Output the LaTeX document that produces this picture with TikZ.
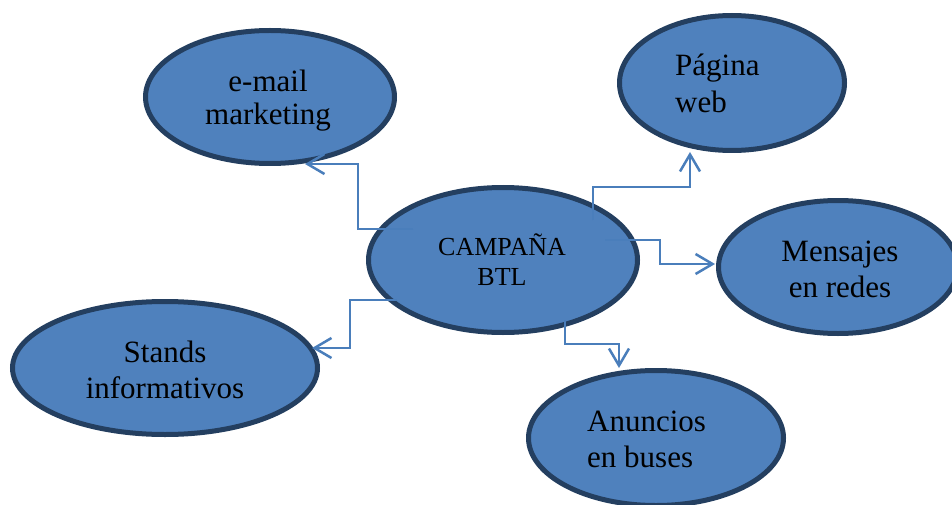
\documentclass[tikz,border=0pt]{standalone}
\usepackage{fontspec}
\setmainfont{Liberation Serif}
\usetikzlibrary{shapes.geometric,arrows.meta}
\definecolor{fillblue}{HTML}{4F81BD}
\definecolor{edgeblue}{HTML}{243F60}
\definecolor{connblue}{HTML}{4A7EBB}
\begin{document}
\begin{tikzpicture}[x=1pt,y=-1pt,
  bubble/.style={ellipse, draw=edgeblue, fill=fillblue, line width=5pt, inner sep=0pt},
  lbl/.style={font=\fontsize{31}{36}\selectfont, align=center, text=black, anchor=base, inner sep=0pt},
  conn/.style={draw=connblue, line width=2.5pt, -{Straight Barb[length=17pt,width=20pt]}}]
\useasboundingbox (0,0) rectangle (952,505);
\clip (0,0) rectangle (952,505);
% bubbles
\node[bubble, minimum width=269pt, minimum height=145pt] (c) at (503,260) {};
\node[bubble, minimum width=249pt, minimum height=133pt] (em) at (270,97) {};
\node[bubble, minimum width=225pt, minimum height=135pt] (pw) at (732,83) {};
\node[bubble, minimum width=239pt, minimum height=133pt] (mr) at (838,267) {};
\node[bubble, minimum width=305pt, minimum height=133pt] (st) at (165,368) {};
\node[bubble, minimum width=255pt, minimum height=135pt] (an) at (656,438) {};
% texts (anchor base = baseline of the last line)
\node[lbl, font=\fontsize{26}{30}\selectfont] (ct) at (502,285) {CAMPAÑA\\BTL};
\node[lbl, font=\fontsize{31}{33}\selectfont] (emt) at (268,125) {e-mail\\marketing};
\node[lbl, align=left, anchor=base west, font=\fontsize{31}{37}\selectfont] (pwt) at (675,113) {Página\\web};
\node[lbl] (mrt) at (840,297) {Mensajes\\en redes};
\node[lbl] (stt) at (165,398) {Stands\\informativos};
\node[lbl, align=left, anchor=base west] (ant) at (587,467) {Anuncios\\en buses};
% connectors
\draw[conn] ([shift={(-90,-31)}]c.center) -| ([shift={(88,67)}]em.center) -- ([shift={(35,67)}]em.center);
\draw[conn] ([shift={(90,-40)}]c.center) |- ([shift={(-42,104)}]pw.center) -- ([shift={(-42,69)}]pw.center);
\draw[conn] ([shift={(102,-20)}]c.center) -| ([shift={(-178,-3)}]mr.center) -- ([shift={(-123,-3)}]mr.center);
\draw[conn] ([shift={(-106,40)}]c.center) -| ([shift={(185,-20)}]st.center) -- ([shift={(147,-20)}]st.center);
\draw[conn] ([shift={(62,60)}]c.center) |- ([shift={(-37,-94)}]an.center) -- ([shift={(-37,-70)}]an.center);
\end{tikzpicture}
\end{document}
